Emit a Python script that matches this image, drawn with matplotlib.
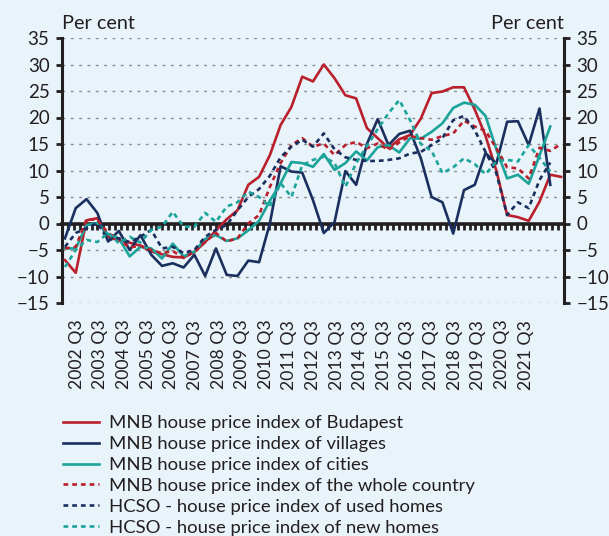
import matplotlib
matplotlib.use("Agg")
import matplotlib.pyplot as plt
from matplotlib.lines import Line2D
import numpy as np

plt.rcParams["font.family"] = ["Lato", "DejaVu Sans"]
plt.rcParams["font.size"] = 13.5

BG = "#E8F3FA"
RED = "#BA1F2C"
NAVY = "#1B2F5E"
TEAL = "#1CA39A"
INK = "#231F20"

# quarter labels shown on the axis (every 4th quarter, starting 2002 Q3)
year_labels = [f"{y} Q3" for y in range(2002, 2022)]
n_quarters = 85

# year-on-year change, per cent
budapest = [-6.9, -9.3, 0.6, 1.0, -2.5, -3.2, -3.6, -4.2, -5.3, -5.8,
            -6.3, -6.4, -5.4, -3.5, -1.3, 0.8, 2.5, 7.3, 8.8, 12.9,
            18.6, 22.0, 27.7, 26.8, 30.0, 27.4, 24.2, 23.6, 18.0, 16.1,
            14.2, 15.9, 16.7, 19.8, 24.6, 24.9, 25.7, 25.7, 21.5, 16.5,
            10.0, 1.6, 1.2, 0.5, 4.1, 9.2, 8.8]
villages = [-2.8, 2.9, 4.6, 2.0, -3.4, -1.4, -5.0, -2.2, -5.9, -8.0,
            -7.5, -8.3, -5.9, -9.9, -4.7, -9.7, -9.9, -7.0, -7.3, 0.0,
            10.8, 9.8, 9.6, 4.4, -1.8, 0.3, 9.9, 7.3, 15.0, 19.7,
            14.8, 16.9, 17.5, 12.3, 5.0, 4.0, -1.9, 6.3, 7.3, 13.3,
            11.3, 19.2, 19.3, 14.8, 21.7, 7.3]
cities = [-4.7, -4.7, -0.3, 0.1, -2.0, -2.8, -6.2, -4.4, -4.7, -6.6,
          -3.8, -6.2, -5.3, -2.9, -2.2, -3.3, -2.8, -1.3, 0.5, 4.3,
          7.6, 11.6, 11.4, 10.7, 13.1, 10.1, 11.4, 13.6, 11.9, 14.4,
          14.8, 13.4, 16.1, 16.0, 17.3, 18.9, 21.8, 22.8, 22.4, 20.3,
          14.0, 8.5, 9.2, 7.5, 12.8, 18.3]
whole_country = [-4.7, -4.4, 0.8, 0.7, -1.8, -3.1, -4.5, -4.2, -5.0, -5.6,
                 -5.2, -6.5, -5.3, -3.5, -1.8, -3.4, -2.8, 0.0, 1.6, 6.9,
                 11.4, 14.8, 16.1, 14.5, 15.1, 12.9, 14.8, 15.4, 14.2, 15.1,
                 13.9, 15.3, 16.5, 16.1, 15.8, 16.5, 17.0, 19.4, 18.3, 17.5,
                 14.2, 10.6, 10.4, 8.5, 14.3, 13.7, 15.0]
used_homes = [-4.4, -1.8, -0.9, 0.1, -3.1, -2.8, -3.5, -2.5, -1.2, -4.7,
              -4.4, -5.6, -5.0, -2.5, -1.2, -0.3, 2.5, 5.0, 6.5, 9.0,
              12.5, 14.5, 15.8, 14.5, 17.0, 14.0, 12.5, 12.0, 11.8, 11.8,
              12.0, 12.3, 13.2, 13.5, 14.8, 16.1, 19.5, 20.3, 17.6, 13.5,
              9.5, 1.6, 4.0, 2.9, 8.2, 11.5]
new_homes = [-8.2, -5.0, -3.1, -3.5, -1.8, -3.7, -2.5, -3.6, -1.2, -0.6,
             2.2, -0.6, -0.6, 2.0, 0.3, 3.2, 4.0, 6.0, 5.0, 3.2,
             7.6, 5.0, 11.0, 12.0, 12.6, 11.4, 6.9, 11.4, 14.6, 17.8,
             20.8, 23.3, 19.5, 15.0, 13.7, 9.5, 10.6, 12.3, 11.2, 9.3,
             11.7, 12.0, 11.7, 14.8, 12.4, 9.8]

DOT = (0, (1.8, 1.5))
series = [
    ("MNB house price index of Budapest", budapest, RED, "-"),
    ("MNB house price index of villages", villages, NAVY, "-"),
    ("MNB house price index of cities", cities, TEAL, "-"),
    ("MNB house price index of the whole country", whole_country, RED, DOT),
    ("HCSO - house price index of used homes", used_homes, NAVY, DOT),
    ("HCSO - house price index of new homes", new_homes, TEAL, DOT),
]

fig = plt.figure(figsize=(6.09, 5.36), dpi=100, facecolor=BG)
ax = fig.add_axes([62 / 609, 1 - 303 / 536, (564 - 62) / 609, (303 - 38) / 536])
ax.set_facecolor(BG)

# observations spread evenly over the quarterly axis
x_all = np.linspace(0, n_quarters - 1, len(budapest))

handles = []
for label, vals, color, ls in series:
    x = x_all[:len(vals)]
    ax.plot(x, vals, color=color, lw=1.9, ls=ls, zorder=3)
    handles.append(Line2D([], [], color=color, lw=1.9, ls=ls))

ax.set_xlim(-0.5, n_quarters - 0.5)
ax.set_ylim(-15, 35)
ax.set_yticks(np.arange(-15, 36, 5))
ax.yaxis.grid(True, color="#8C8C8C", lw=1.0, ls=(0, (2, 4)))
ax.set_axisbelow(True)

for side in ["left", "right"]:
    ax.spines[side].set_color(INK)
    ax.spines[side].set_linewidth(2.2)
ax.spines["top"].set_visible(False)
ax.spines["bottom"].set_position(("data", 0))
ax.spines["bottom"].set_color(INK)
ax.spines["bottom"].set_linewidth(2.6)
ax.spines["bottom"].set_zorder(2)

ax.tick_params(axis="y", which="both", left=True, right=True, labelleft=True,
               labelright=True, direction="out", length=4, width=2,
               color=INK, pad=5, labelsize=13.5, labelcolor=INK)
ax.set_xticks(np.arange(-0.5, n_quarters, 1.0))
ax.tick_params(axis="x", direction="out", length=4, width=2, color=INK,
               labelbottom=False)

sec = ax.secondary_xaxis(0.0)
sec.set_xticks(np.arange(2, n_quarters, 4)[:len(year_labels)], year_labels)
sec.tick_params(length=0, pad=12, rotation=90, labelsize=12.7, labelcolor=INK)
sec.spines["bottom"].set_visible(False)

fig.text(62 / 609, 1 - 29 / 536, "Per cent", ha="left", va="baseline",
         fontsize=14.3, color=INK)
fig.text(564 / 609, 1 - 29 / 536, "Per cent", ha="right", va="baseline",
         fontsize=14.3, color=INK)

fig.legend(handles, [s[0] for s in series], loc="upper left",
           bbox_to_anchor=(63 / 609, 1 - 415 / 536), frameon=False,
           handlelength=1.95, handletextpad=0.55, labelspacing=0.27,
           borderaxespad=0, borderpad=0, fontsize=13.3, labelcolor=INK)

fig.savefig("out.png", dpi=100, facecolor=BG)
